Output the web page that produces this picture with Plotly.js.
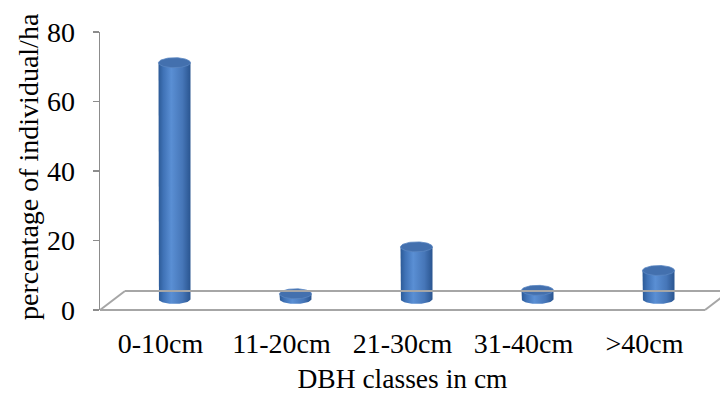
<!DOCTYPE html>
<html><head><meta charset="utf-8">
<script src="https://cdn.plot.ly/plotly-3.0.1.min.js"></script>
<style>html,body{margin:0;padding:0;background:#fff}#c{width:720px;height:394px}</style>
</head><body><div id="c"></div>
<script>
const categories = ['0-10cm', '11-20cm', '21-30cm', '31-40cm', '>40cm'];
const values = [68, 1.5, 15, 2.5, 8.2];
const yTicks = [0, 20, 40, 60, 80];
const xTitle = 'DBH classes in cm';
const yTitle = 'percentage of individual/ha';

const W = 720, H = 394, L = 100, R = 15, T = 32, B = 84;
const plotW = W - L - R, plotH = H - T - B;
const yMax = 80;
const xUnitPx = plotW / categories.length;
const depthShiftPx = 14;
const baseLiftPx = 11;
const yPxPerUnit = plotH / yMax;
const x2Range = [-0.5 - depthShiftPx / xUnitPx, categories.length - 0.5 - depthShiftPx / xUnitPx];
const y2lo = -baseLiftPx / yPxPerUnit;
const y2Range = [y2lo, yMax + y2lo];
const rx = 16 / xUnitPx, ry = 5 / yPxPerUnit;
const N = 40;

const traces = [];
traces.push({x: categories, y: values.map(() => null), type: 'scatter', mode: 'markers',
  xaxis: 'x', yaxis: 'y', hoverinfo: 'skip', showlegend: false});

values.forEach((v, i) => {
  const bx = [], by = [];
  bx.push(i - rx); by.push(v);
  for (let k = 0; k <= N; k++) {
    const t = Math.PI + Math.PI * k / N;
    bx.push(i + rx * Math.cos(t)); by.push(ry * Math.sin(t));
  }
  bx.push(i + rx); by.push(v);
  bx.push(i - rx); by.push(v);
  traces.push({x: bx, y: by, xaxis: 'x2', yaxis: 'y2', type: 'scatter', mode: 'lines',
    fill: 'toself', line: {width: 0, color: 'rgba(0,0,0,0)'}, hoverinfo: 'skip', showlegend: false,
    fillgradient: {type: 'horizontal', colorscale: [[0, '#2c5a96'], [0.15, '#3f72b6'], [0.4, '#5a8fd4'], [0.75, '#4676b8'], [1, '#2a5590']]}});
  const cx = [], cy = [];
  for (let k = 0; k <= 2 * N; k++) {
    const t = 2 * Math.PI * k / (2 * N);
    cx.push(i + rx * Math.cos(t)); cy.push(v + ry * Math.sin(t));
  }
  traces.push({x: cx, y: cy, xaxis: 'x2', yaxis: 'y2', type: 'scatter', mode: 'lines',
    fill: 'toself', fillcolor: '#4370ae', line: {width: 0.8, color: '#5a86c2'}, hoverinfo: 'skip', showlegend: false});
});

const grey = '#a6a6a6';
const backDx = 25 / plotW, backDy = 19 / plotH;
const shapes = [
  {type: 'line', xref: 'paper', yref: 'paper', x0: 0, y0: 0, x1: 1, y1: 0, line: {color: grey, width: 2}},
  {type: 'line', xref: 'paper', yref: 'paper', x0: backDx, y0: backDy, x1: 1 + backDx, y1: backDy, line: {color: grey, width: 2}},
  {type: 'line', xref: 'paper', yref: 'paper', x0: 0, y0: 0, x1: backDx, y1: backDy, line: {color: grey, width: 2}},
  {type: 'line', xref: 'paper', yref: 'paper', x0: 1, y0: 0, x1: 1 + backDx, y1: backDy, line: {color: grey, width: 2}}
];

const font = {family: 'Liberation Serif, Times New Roman, serif', color: '#000'};
const layout = {
  width: W, height: H,
  margin: {l: L, r: R, t: T, b: B},
  paper_bgcolor: '#fff', plot_bgcolor: 'rgba(0,0,0,0)',
  showlegend: false,
  font: font,
  shapes: shapes,
  annotations: [{text: yTitle, xref: 'paper', yref: 'paper', x: (28 - L) / plotW, y: (H - B - 167) / plotH,
    xanchor: 'center', yanchor: 'middle', textangle: -90, showarrow: false,
    font: Object.assign({size: 28}, font)}],
  xaxis: {type: 'category', range: [-0.5, categories.length - 0.5], showline: false, ticks: '',
    showgrid: false, zeroline: false, tickfont: Object.assign({size: 28}, font), ticklabelstandoff: 14,
    title: {text: xTitle, font: Object.assign({size: 27.5}, font), standoff: 11}, fixedrange: true},
  yaxis: {range: [0, yMax], tickvals: yTicks, showline: true, linecolor: '#8c8c8c', linewidth: 1.5,
    ticks: 'outside', ticklen: 6, tickcolor: '#8c8c8c', tickwidth: 1.5, showgrid: false, zeroline: false,
    tickfont: Object.assign({size: 28}, font), ticklabelstandoff: 12, fixedrange: true},
  xaxis2: {overlaying: 'x', range: x2Range, visible: false, fixedrange: true},
  yaxis2: {overlaying: 'y', range: y2Range, visible: false, fixedrange: true}
};

Plotly.newPlot('c', traces, layout, {staticPlot: true, displayModeBar: false});
</script>
</body></html>
